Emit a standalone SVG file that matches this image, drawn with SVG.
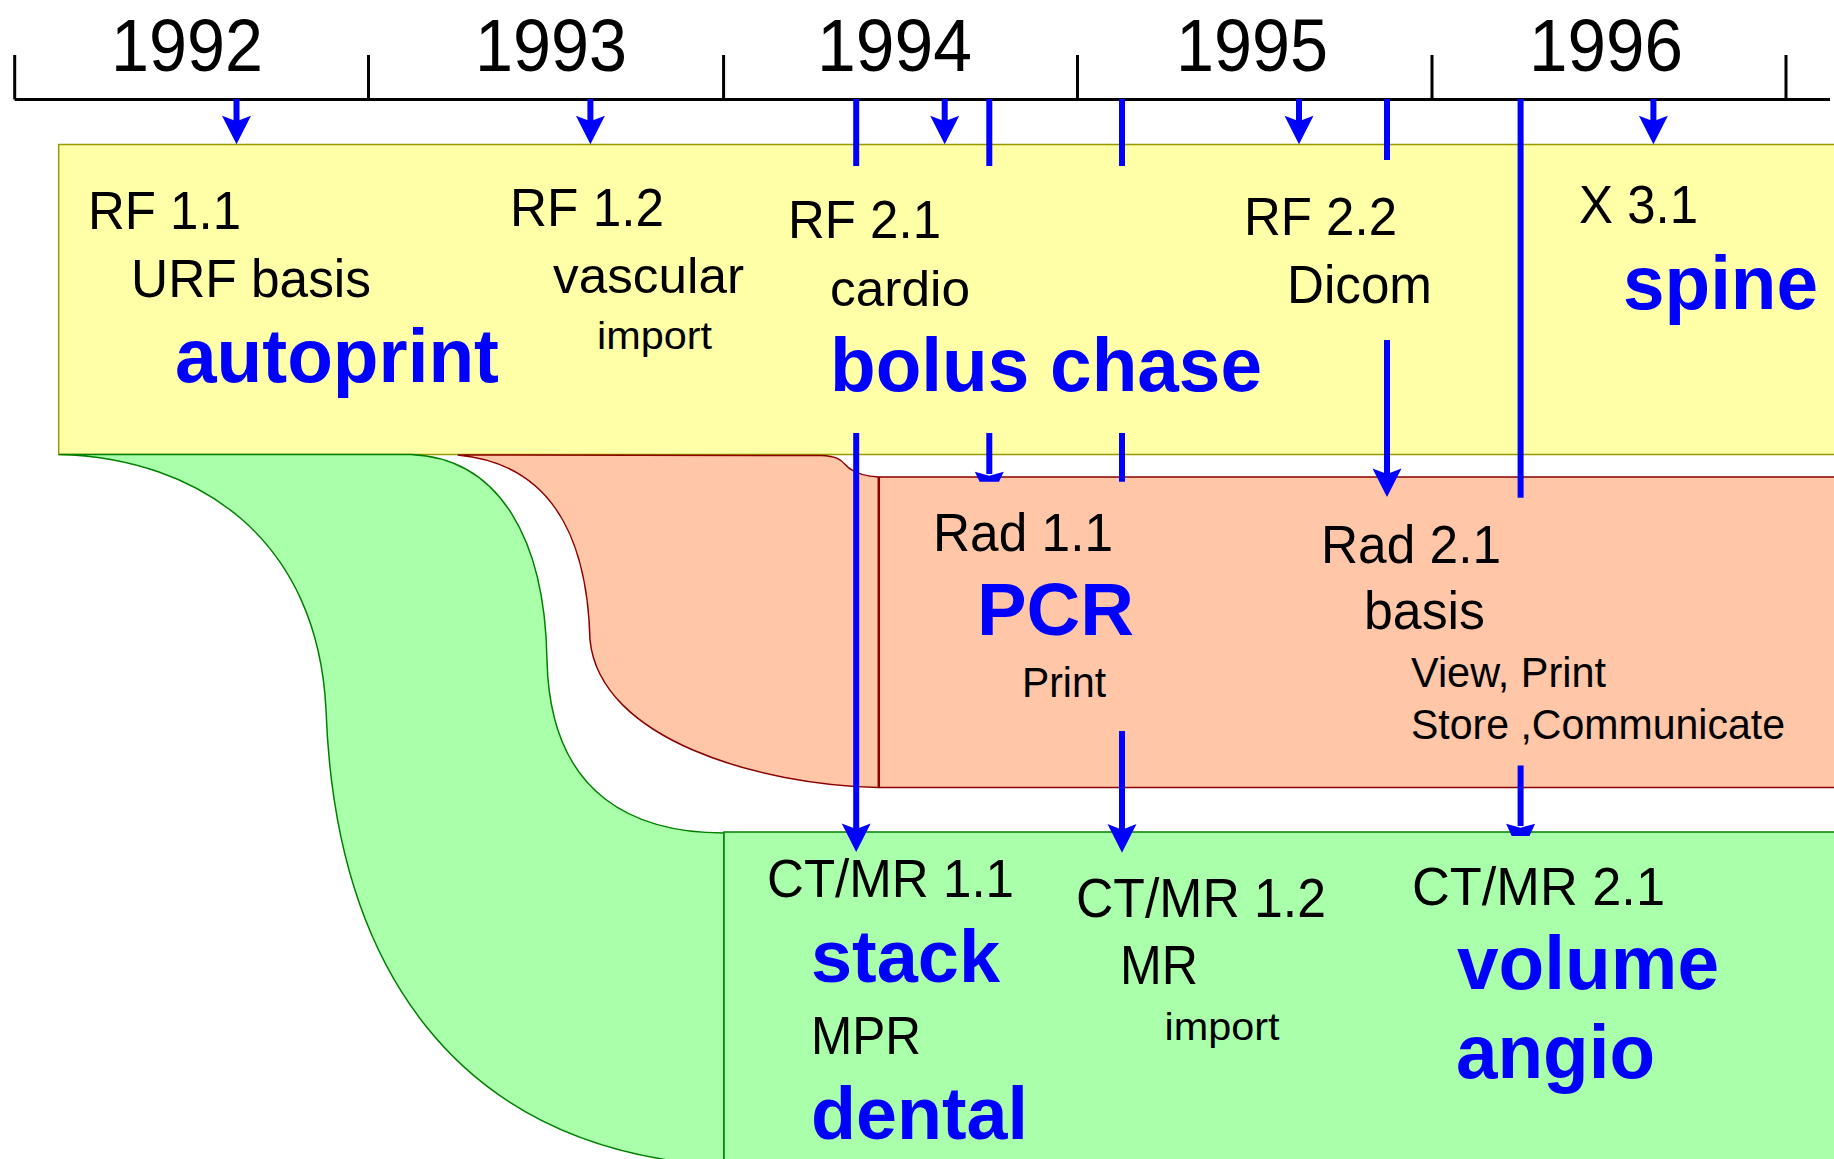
<svg xmlns="http://www.w3.org/2000/svg" xmlns:xlink="http://www.w3.org/1999/xlink" width="1834" height="1159" viewBox="0 0 1834 1159">
<style>
.t{font-family:'Liberation Sans',Arial,Helvetica,sans-serif;fill:#000}
.b{font-weight:bold;fill:#0000ff}
.yr{font-size:75px}
.ax{stroke:#000;stroke-width:3;fill:none}
.ln{stroke:#0000ff;stroke-width:6;fill:none}
.ah{fill:#0000ff}
</style>
<defs>
<path id="ah" d="M0,0 L-14.5,-28.6 L0,-23 L14.5,-28.6 Z"/>
</defs>
<rect width="1834" height="1159" fill="#fff"/>

<g id="timeline">
<path class="ax" d="M14.7,99.4 H1830 M14.7,55 V99.4 M368.5,55 V99.4 M723.6,55 V99.4 M1077.5,55 V99.4 M1432,55 V99.4 M1786,55 V99.4"/>
<text class="t yr" x="111" y="70.7" textLength="152" lengthAdjust="spacingAndGlyphs">1992</text>
<text class="t yr" x="475" y="70.7" textLength="152" lengthAdjust="spacingAndGlyphs">1993</text>
<text class="t yr" x="817" y="70.7" textLength="155" lengthAdjust="spacingAndGlyphs">1994</text>
<text class="t yr" x="1176" y="70.7" textLength="152" lengthAdjust="spacingAndGlyphs">1995</text>
<text class="t yr" x="1529" y="70.7" textLength="154" lengthAdjust="spacingAndGlyphs">1996</text>
</g>

<g id="node-rf">
<rect x="58.7" y="144.5" width="1790" height="310" fill="#ffffa8" stroke="#999900" stroke-width="1.5"/>
<text class="t" font-size="54" x="88" y="229.3" textLength="153" lengthAdjust="spacingAndGlyphs">RF 1.1</text>
<text class="t" font-size="54" x="131" y="296.7" textLength="240" lengthAdjust="spacingAndGlyphs">URF basis</text>
<text class="t b" font-size="76" x="175" y="381.7" textLength="324" lengthAdjust="spacingAndGlyphs">autoprint</text>
<text class="t" font-size="53" x="510" y="226" textLength="154" lengthAdjust="spacingAndGlyphs">RF 1.2</text>
<text class="t" font-size="50" x="553" y="293.3" textLength="191" lengthAdjust="spacingAndGlyphs">vascular</text>
<text class="t" font-size="39" x="597" y="349.3" textLength="115" lengthAdjust="spacingAndGlyphs">import</text>
<text class="t" font-size="53" x="788" y="238.3" textLength="153" lengthAdjust="spacingAndGlyphs">RF 2.1</text>
<text class="t" font-size="50" x="830" y="306" textLength="140" lengthAdjust="spacingAndGlyphs">cardio</text>
<text class="t b" font-size="76" x="830" y="390.7" textLength="432" lengthAdjust="spacingAndGlyphs">bolus chase</text>
<text class="t" font-size="53" x="1244" y="235" textLength="153" lengthAdjust="spacingAndGlyphs">RF 2.2</text>
<text class="t" font-size="54" x="1287" y="302.7" textLength="145" lengthAdjust="spacingAndGlyphs">Dicom</text>
<text class="t" font-size="53" x="1579" y="223.3" textLength="119" lengthAdjust="spacingAndGlyphs">X 3.1</text>
<text class="t b" font-size="76" x="1623" y="309" textLength="195" lengthAdjust="spacingAndGlyphs">spine</text>
</g>

<g id="flows">
<path id="flow-ctmr" d="M58.7,454.4 L410.8,454.4 C500,458 545,540 547,660 C550,800 640,833 724,833 L724,1166 C450,1150 335,960 326,710 C318,540 200,458 58.7,454.4 Z" fill="#aaffaa" stroke="#008000" stroke-width="1.5"/>
<path id="flow-rad" d="M457.7,455 L821,455.5 C845,456 843,466 852,470 C858,474 870,476.5 878.3,477 L878.3,787.5 C760,785 600,740 590,640 C588,560 565,465 457.7,455 Z" fill="#ffc6a8" stroke="#8b0000" stroke-width="1.5"/>
</g>

<g id="node-rad">
<rect x="879.3" y="477" width="970" height="310.5" fill="#ffc6a8" stroke="#8b0000" stroke-width="1.5"/>
<text class="t" font-size="53" x="933" y="551" textLength="180" lengthAdjust="spacingAndGlyphs">Rad 1.1</text>
<text class="t b" font-size="74" x="977" y="635" textLength="157" lengthAdjust="spacingAndGlyphs">PCR</text>
<text class="t" font-size="42" x="1022" y="697.3" textLength="84" lengthAdjust="spacingAndGlyphs">Print</text>
<text class="t" font-size="53" x="1321" y="562.7" textLength="180" lengthAdjust="spacingAndGlyphs">Rad 2.1</text>
<text class="t" font-size="53" x="1364" y="629.3" textLength="121" lengthAdjust="spacingAndGlyphs">basis</text>
<text class="t" font-size="42" x="1411" y="686.7" textLength="195" lengthAdjust="spacingAndGlyphs">View, Print</text>
<text class="t" font-size="42" x="1411" y="739.3" textLength="374" lengthAdjust="spacingAndGlyphs">Store ,Communicate</text>
</g>

<g id="node-ctmr">
<rect x="724" y="832" width="1125" height="340" fill="#aaffaa" stroke="#008000" stroke-width="1.5"/>
<text class="t" font-size="54" x="767" y="896.7" textLength="247" lengthAdjust="spacingAndGlyphs">CT/MR 1.1</text>
<text class="t b" font-size="74" x="811" y="981.7" textLength="189" lengthAdjust="spacingAndGlyphs">stack</text>
<text class="t" font-size="54" x="811" y="1054" textLength="110" lengthAdjust="spacingAndGlyphs">MPR</text>
<text class="t b" font-size="75" x="811" y="1139.3" textLength="217" lengthAdjust="spacingAndGlyphs">dental</text>
<text class="t" font-size="55" x="1076" y="917.3" textLength="250" lengthAdjust="spacingAndGlyphs">CT/MR 1.2</text>
<text class="t" font-size="55" x="1120" y="984" textLength="78" lengthAdjust="spacingAndGlyphs">MR</text>
<text class="t" font-size="39" x="1164.5" y="1040" textLength="115" lengthAdjust="spacingAndGlyphs">import</text>
<text class="t" font-size="54" x="1412" y="905" textLength="253" lengthAdjust="spacingAndGlyphs">CT/MR 2.1</text>
<text class="t b" font-size="76" x="1457" y="989" textLength="262" lengthAdjust="spacingAndGlyphs">volume</text>
<text class="t b" font-size="76" x="1456" y="1078" textLength="199" lengthAdjust="spacingAndGlyphs">angio</text>
</g>

<g id="connectors">
<path class="ln" d="M236.5,99 V125 M590.4,99 V125 M944.7,99 V125 M1299,99 V125 M1653.4,99 V125"/>
<path class="ln" d="M856.2,99 V166 M856.2,433 V830"/>
<path class="ln" d="M989.3,99 V166 M989.3,433 V474"/>
<path class="ln" d="M1122,99 V166 M1122,433 V481.7 M1122,731 V830"/>
<path class="ln" d="M1387,99 V160 M1387,340 V475"/>
<path class="ln" d="M1520.6,99 V497.7 M1520.6,765.6 V826"/>
<g class="ah">
<use xlink:href="#ah" x="236.5" y="144.3"/>
<use xlink:href="#ah" x="590.4" y="144.3"/>
<use xlink:href="#ah" x="944.7" y="144.3"/>
<use xlink:href="#ah" x="1299" y="144.3"/>
<use xlink:href="#ah" x="1653.4" y="144.3"/>
<use xlink:href="#ah" x="856.2" y="852"/>
<use xlink:href="#ah" x="1122" y="852.7"/>
<use xlink:href="#ah" x="1387" y="497"/>
<polygon points="974.8,471.7 989.3,475.7 1003.8,471.7 999,481.7 979.6,481.7"/>
<polygon points="1506.1,823.8 1520.6,827.8 1535.1,823.8 1529.5,836 1511.7,836"/>
</g>
</g>
</svg>
